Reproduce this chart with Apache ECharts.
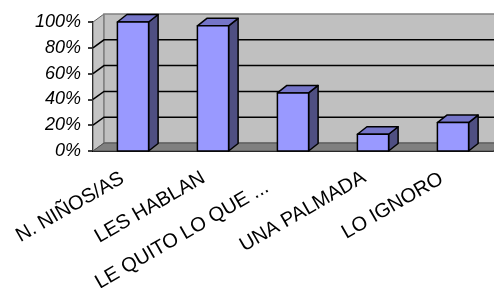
<!DOCTYPE html>
<html>
<head>
<meta charset="utf-8">
<script src="https://cdn.jsdelivr.net/npm/echarts@6/dist/echarts.min.js"></script>
<style>
  html, body { margin: 0; padding: 0; background: #fff; }
  #chart { width: 494px; height: 288px; }
</style>
</head>
<body>
<div id="chart"></div>
<script>
const categories = ["N. NIÑOS/AS", "LES HABLAN", "LE QUITO LO QUE ...", "UNA PALMADA", "LO IGNORO"];
const values = [1.0, 0.97, 0.45, 0.13, 0.22];
const yTicks = [0, 0.2, 0.4, 0.6, 0.8, 1.0];

const font = 'Arial, "Liberation Sans", sans-serif';
// 3d depth of the walls and of the bars
const wallDx = 11, wallDy = -8;
const barDx = 9.5, barDy = -7.5;

const chart = echarts.init(document.getElementById("chart"));

const renderWalls = (params, api) => {
  const cs = params.coordSys;
  const x0 = cs.x, x1 = cs.x + cs.width;
  const yB = api.coord([0, 0])[1];
  const yT = api.coord([0, 1])[1];
  const children = [
    {
      type: "polygon",
      shape: { points: [[x0, yB], [x0, yT], [x0 + wallDx, yT + wallDy], [x0 + wallDx, yB + wallDy]] },
      style: { fill: "#c4c4c4", stroke: "#606060", lineWidth: 1 },
    },
    {
      type: "rect",
      shape: { x: x0 + wallDx, y: yT + wallDy, width: x1 - x0, height: yB - yT },
      style: { fill: "#c0c0c0", stroke: "#808080", lineWidth: 1.5 },
    },
    {
      type: "polygon",
      shape: { points: [[x0, yB], [x1, yB], [x1 + wallDx, yB + wallDy], [x0 + wallDx, yB + wallDy]] },
      style: { fill: "#808080", stroke: "#505050", lineWidth: 1 },
    },
  ];
  yTicks.forEach((v) => {
    if (v === 0 || v === 1) return;
    const y = api.coord([0, v])[1];
    children.push({
      type: "polyline",
      shape: { points: [[x0, y], [x0 + wallDx, y + wallDy], [x1 + wallDx, y + wallDy]] },
      style: { fill: null, stroke: "#000", lineWidth: 1.5 },
    });
  });
  return { type: "group", children };
};

const renderBar = (params, api) => {
  const top = api.coord([api.value(0), api.value(1)]);
  const base = api.coord([api.value(0), 0]);
  const w = api.size([1, 0])[0] * 0.39;
  const x = top[0] - w / 2;
  const yt = top[1], yb = base[1];
  const edge = { stroke: "#000", lineWidth: 1.5, lineJoin: "round" };
  return {
    type: "group",
    children: [
      {
        type: "polygon",
        shape: { points: [[x + w, yt], [x + w + barDx, yt + barDy], [x + w + barDx, yb + barDy], [x + w, yb]] },
        style: Object.assign({ fill: "#4f4f82" }, edge),
      },
      {
        type: "polygon",
        shape: { points: [[x, yt], [x + barDx, yt + barDy], [x + w + barDx, yt + barDy], [x + w, yt]] },
        style: Object.assign({ fill: "#7575c8" }, edge),
      },
      {
        type: "rect",
        shape: { x: x, y: yt, width: w, height: yb - yt },
        style: Object.assign({ fill: "#9999ff" }, edge),
      },
    ],
  };
};

chart.setOption({
  animation: false,
  grid: { left: 93, right: 1, top: 22, bottom: 137, outerBoundsMode: "none", containLabel: false },
  xAxis: {
    type: "category",
    data: categories,
    axisLine: { lineStyle: { color: "#000", width: 2 } },
    axisTick: { length: 5, lineStyle: { color: "#000", width: 1.5 } },
    axisLabel: {
      interval: 0,
      rotate: 30,
      margin: 20,
      color: "#000",
      fontFamily: font,
      fontSize: 20,
      formatter: (v, i) => "{p" + i + "|" + v + "}",
      rich: {
        p0: { fontFamily: font, fontSize: 20, padding: [0, 12, 0, 0] },
        p1: { fontFamily: font, fontSize: 20, padding: [0, 11, 0, 0] },
        p2: { fontFamily: font, fontSize: 20, padding: [0, 30, 0, 0] },
        p3: { fontFamily: font, fontSize: 20, padding: [0, 10, 0, 0] },
        p4: { fontFamily: font, fontSize: 20, padding: [0, 13, 0, 0] },
      },
    },
    splitLine: { show: false },
  },
  yAxis: {
    type: "value",
    min: 0,
    max: 1,
    interval: 0.2,
    axisLine: { show: true, lineStyle: { color: "#000", width: 2 } },
    axisTick: { show: true, length: 5, lineStyle: { color: "#000", width: 1.5 } },
    axisLabel: {
      margin: 12,
      color: "#000",
      fontFamily: font,
      fontStyle: "italic",
      fontSize: 18,
      formatter: (v) => Math.round(v * 100) + "%",
    },
    splitLine: { show: false },
  },
  series: [
    {
      type: "custom",
      z: 1,
      silent: true,
      renderItem: renderWalls,
      data: [[0, 0]],
    },
    {
      type: "custom",
      z: 3,
      renderItem: renderBar,
      data: values.map((v, i) => [i, v]),
    },
  ],
});
</script>
</body>
</html>
